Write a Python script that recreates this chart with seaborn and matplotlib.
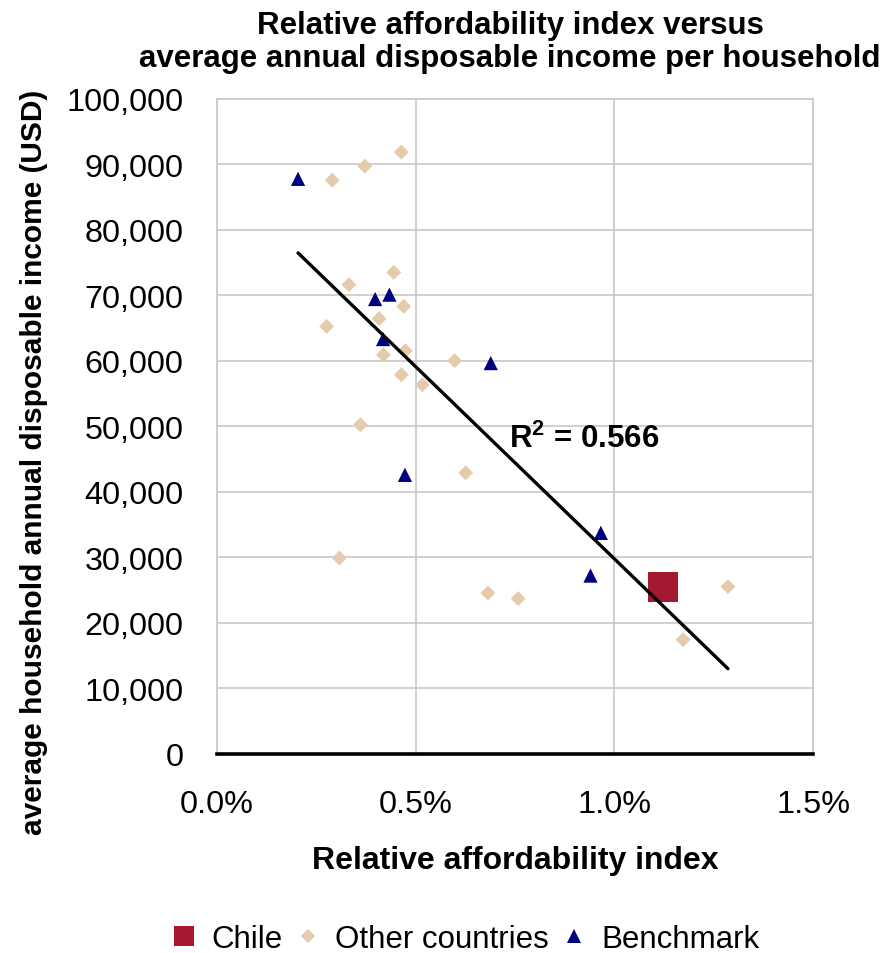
import numpy as np
import pandas as pd
import matplotlib
matplotlib.use("Agg")
import matplotlib.pyplot as plt
from matplotlib.lines import Line2D
from matplotlib.ticker import FuncFormatter, MultipleLocator
import seaborn as sns

# Relative affordability index (%) and household disposable income (USD)
chile_x = [1.123]
chile_y = [25550]

other_x = [0.464, 0.372, 0.290, 0.445, 0.332, 0.470, 0.408, 0.276, 0.474, 0.419,
           0.464, 0.517, 0.598, 0.361, 0.308, 0.626, 0.682, 0.758, 1.286, 1.173]
other_y = [91890, 89750, 87600, 73540, 71650, 68340, 66460, 65280, 61560, 60950,
           57900, 56370, 60040, 50250, 29920, 42930, 24580, 23720, 25550, 17450]

bench_x = [0.204, 0.398, 0.434, 0.418, 0.689, 0.473, 0.966, 0.940]
bench_y = [87810, 69460, 70130, 63350, 59680, 42620, 33760, 27240]

groups = ["Chile", "Other countries", "Benchmark"]
r2_label = "R$^2$ = 0.566"

df = pd.DataFrame({
    "x": chile_x + other_x + bench_x,
    "y": chile_y + other_y + bench_y,
    "group": (["Chile"] * len(chile_x) + ["Other countries"] * len(other_x)
              + ["Benchmark"] * len(bench_x)),
})

sns.set_theme(style="white")
plt.rcParams["font.family"] = ["Liberation Sans", "DejaVu Sans"]
plt.rcParams["mathtext.default"] = "regular"
plt.rcParams["text.color"] = "black"
plt.rcParams["axes.labelcolor"] = "black"

fig = plt.figure(figsize=(8.94, 9.54), dpi=100)
ax = fig.add_axes([0.2427, 0.2086, 0.6667, 0.6866])

palette = {"Chile": "#A3192F", "Other countries": "#E4CBAE", "Benchmark": "#000080"}
markers = {"Chile": "s", "Other countries": "D", "Benchmark": "^"}
sizes = {"Chile": 470, "Other countries": 58, "Benchmark": 105}

sns.scatterplot(data=df, x="x", y="y", hue="group", style="group", size="group",
                hue_order=groups, style_order=groups, size_order=groups,
                palette=palette, markers=markers, sizes=sizes,
                linewidth=0, ax=ax, zorder=3, legend=False)

sns.regplot(data=df, x="x", y="y", scatter=False, ci=None, truncate=True,
            color="black", line_kws={"linewidth": 2.4, "zorder": 4}, ax=ax)

ax.text(0.735, 46900, r2_label, fontsize=22.5, fontweight="bold",
        ha="left", va="baseline", zorder=5)

ax.set_xlim(0, 1.5)
ax.set_ylim(0, 100000)
ax.xaxis.set_major_locator(MultipleLocator(0.5))
ax.yaxis.set_major_locator(MultipleLocator(10000))
ax.xaxis.set_major_formatter(FuncFormatter(lambda v, p: f"{v:.1f}%"))
ax.yaxis.set_major_formatter(FuncFormatter(lambda v, p: f"{v:,.0f}"))
ax.tick_params(axis="both", length=0, labelsize=23.3, colors="black")
ax.tick_params(axis="x", pad=25)
ax.tick_params(axis="y", pad=24)

ax.grid(True, color="#C8C8C8", linewidth=1.2)
ax.set_axisbelow(True)
for side in ["left", "top", "right"]:
    ax.spines[side].set_color("#C8C8C8")
    ax.spines[side].set_linewidth(1.2)
ax.spines["bottom"].set_color("black")
ax.spines["bottom"].set_linewidth(2.6)
ax.spines["bottom"].set_zorder(6)

ax.set_xlabel("Relative affordability index", fontsize=23, fontweight="bold")
ax.xaxis.set_label_coords(0.5, -0.139)
ax.set_ylabel("average household annual disposable income (USD)", fontsize=21.5,
              fontweight="bold")
ax.yaxis.set_label_coords(-0.2836, 0.447)

fig.text(0.5705, 1 - 67 / 954,
         "Relative affordability index versus\naverage annual disposable income per household",
         ha="center", va="baseline", fontsize=22.5, fontweight="bold", linespacing=1.12)

handles = [
    Line2D([], [], linestyle="none", marker="s", markersize=14.9,
           markerfacecolor=palette["Chile"], markeredgewidth=0),
    Line2D([], [], linestyle="none", marker="D", markersize=7.6,
           markerfacecolor=palette["Other countries"], markeredgewidth=0),
    Line2D([], [], linestyle="none", marker="^", markersize=9.4,
           markerfacecolor=palette["Benchmark"], markeredgewidth=0),
]
fig.legend(handles, groups, loc="center", bbox_to_anchor=(0.519, 0.0147),
           ncol=3, frameon=False, fontsize=22.5, handlelength=1.0,
           handletextpad=0.37, columnspacing=0.3, borderpad=0, borderaxespad=0)

fig.savefig("out.png", dpi=100)
